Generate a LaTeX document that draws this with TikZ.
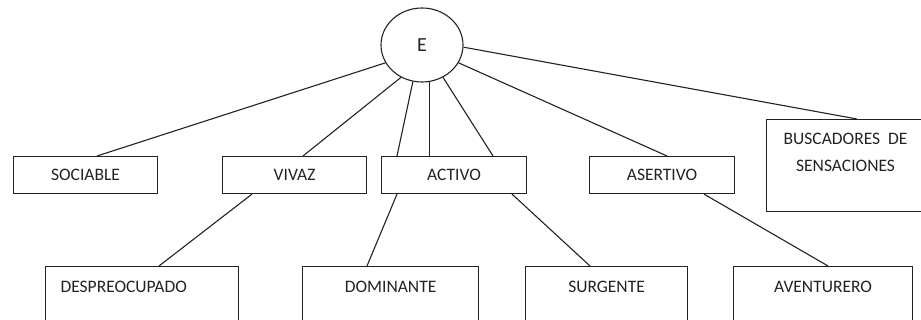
\documentclass[tikz,border=0pt]{standalone}
\usepackage{fontspec}
\setmainfont{Carlito}
\usetikzlibrary{shapes.geometric}
\definecolor{ink}{HTML}{222222}
\begin{document}
\begin{tikzpicture}[x=1pt,y=-1pt,line width=1.1pt,draw=ink,
  txt/.style={font=\fontsize{17.5}{21}\selectfont,text=ink},
  topbox/.style={txt,draw=ink,rectangle,inner sep=0pt,anchor=north west,minimum height=37pt},
  lowbox/.style={txt,draw=ink,rectangle,inner ysep=0pt,anchor=north west,text height=25.5pt,text depth=30.5pt},
  link/.style={draw=ink,line width=1.1pt}]
\useasboundingbox (0,0) rectangle (921,320);
\clip (0,0) rectangle (921,320);
\node[draw=ink,ellipse,minimum width=82pt,minimum height=74pt,inner sep=0pt,
      font=\fontsize{20}{24}\selectfont,text=ink] (E) at (422,45) {E};
\node[topbox,minimum width=144pt] (SOC) at (13,156) {SOCIABLE};
\node[topbox,minimum width=144pt] (VIV) at (222,156) {VIVAZ};
\node[topbox,minimum width=145pt] (ACT) at (381,156) {ACTIVO};
\node[topbox,minimum width=145pt] (ASE) at (589,156) {ASERTIVO};
\node[txt,draw=ink,rectangle,anchor=north west,inner sep=0pt,minimum width=158pt,
      align=center,font=\fontsize{17.5}{27}\selectfont,text height=51.6pt,text depth=40.4pt] (BUS) at (766,119)
      {BUSCADORES\ \ DE\\SENSACIONES};
\node[lowbox,inner xsep=15pt,text width=163pt,align=left] (DES) at (45,266) {DESPREOCUPADO};
\node[lowbox,inner xsep=0pt,minimum width=176pt] (DOM) at (302,266) {DOMINANTE};
\node[lowbox,inner xsep=0pt,minimum width=162pt] (SUR) at (525,266) {SURGENTE};
\node[lowbox,inner xsep=0pt,minimum width=179pt] (AVE) at (733,266) {AVENTURERO};
\draw[link] (E.206.6) -- ([xshift=84pt]SOC.north west);
\draw[link] (E.237.7) -- ([xshift=81pt]VIV.north west);
\draw[link] (E.256.3) -- ([xshift=16pt]ACT.north west);
\draw[link] (E.282) -- (E.282 |- ACT.north);
\draw[link] (E.303.3) -- ([xshift=112pt]ACT.north west);
\draw[link] (E.334) -- ([xshift=78pt]ASE.north west);
\draw[link] (E.357) -- ([xshift=91pt]BUS.north west);
\draw[link] ([xshift=30pt]VIV.south west) -- ([xshift=114pt]DES.north west);
\draw[link] ([xshift=16pt]ACT.south west) -- ([xshift=65pt]DOM.north west);
\draw[link] ([xshift=131pt]ACT.south west) -- ([xshift=65pt]SUR.north west);
\draw[link] ([xshift=115pt]ASE.south west) -- ([xshift=95pt]AVE.north west);
\end{tikzpicture}
\end{document}
